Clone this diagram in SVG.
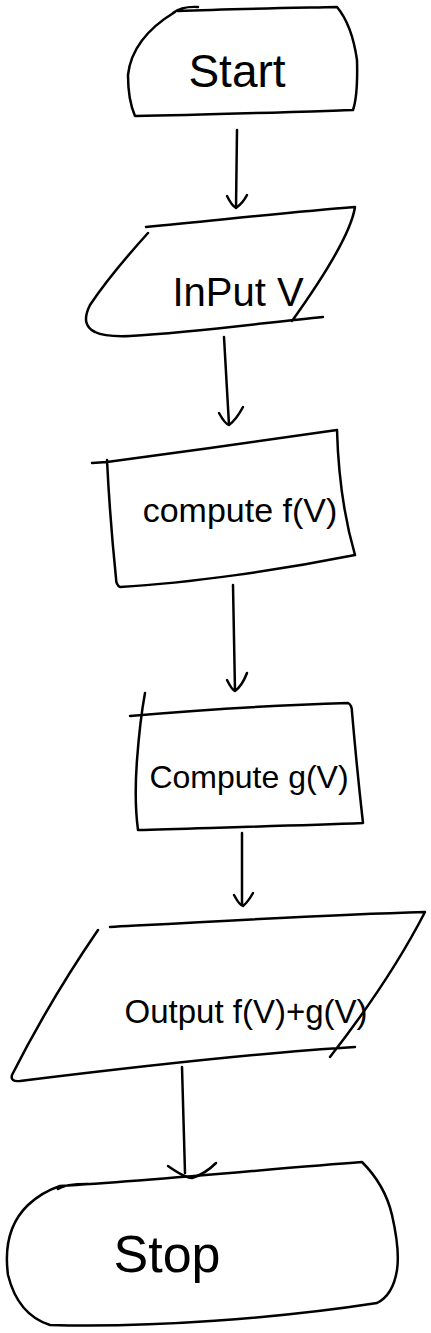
<svg xmlns="http://www.w3.org/2000/svg" width="431" height="1333" viewBox="0 0 431 1333">
<style>
.s{fill:none;stroke:#000;stroke-width:2.5;stroke-linecap:round;stroke-linejoin:round}
.t{font-family:"Liberation Sans",Arial,sans-serif;fill:#000;text-anchor:middle}
</style>
<rect width="431" height="1333" fill="#fff"/>
<g id="start">
<path class="s" d="M173,13 Q182,6 198,7 M178,11 C230,9 290,8 337,7 Q352,25 357,60 Q358,95 353,110 C290,112 200,115 135,116 Q128,100 128,75 Q132,38 175,12"/>
<text class="t" x="237" y="87" font-size="46">Start</text>
</g>
<g id="input">
<path class="s" d="M146,227 C220,220 290,212 355,207 Q350,240 292,321 M148,233 Q110,275 90,305 Q80,325 95,332 Q105,337 130,336 C200,332 270,322 323,317"/>
<text class="t" x="238" y="306" font-size="40">InPut V</text>
</g>
<g id="computef">
<path class="s" d="M92,463 L107,462 C180,452 270,440 337,430 Q339,500 355,555 C280,570 190,583 120,587 Q116,585 116,578 Q110,520 107,460"/>
<text class="t" x="240" y="522" font-size="34">compute f(V)</text>
</g>
<g id="computeg">
<path class="s" d="M130,716 C200,710 280,705 348,703 Q352,705 352,712 Q357,770 363,823 C290,826 200,828 138,830 Q134,800 137,760 Q140,720 145,693"/>
<text class="t" x="249" y="788" font-size="32">Compute g(V)</text>
</g>
<g id="output">
<path class="s" d="M110,927 C200,922 320,915 425,912 Q390,980 330,1057 M98,930 Q50,1000 12,1075 Q10,1082 20,1081 C150,1065 270,1052 355,1047"/>
<text class="t" x="246" y="1023" font-size="33">Output f(V)+g(V)</text>
</g>
<g id="stop">
<path class="s" d="M58,1189 Q65,1184 88,1184 M60,1186 C160,1180 280,1168 362,1162 Q385,1185 392,1215 Q400,1250 397,1270 Q393,1295 377,1303 C280,1318 150,1328 50,1325 Q18,1315 8,1275 Q2,1230 28,1205 Q42,1192 60,1186"/>
<text class="t" x="167" y="1272" font-size="52">Stop</text>
</g>
<g id="connectors">
<path class="s" d="M237,130 L236,208 M227,196 Q232,206 236,208 Q243,203 247,195"/>
<path class="s" d="M224,337 L229,425 M219,413 Q225,424 229,425 Q236,420 243,407"/>
<path class="s" d="M233,585 L235,691 M227,680 Q232,690 235,691 Q242,686 247,673"/>
<path class="s" d="M242,833 L242,905 M234,895 Q240,906 243,906 Q248,902 253,893"/>
<path class="s" d="M182,1067 L185,1173 M168,1166 Q185,1178 192,1178 Q205,1174 216,1163"/>
</g>
</svg>
